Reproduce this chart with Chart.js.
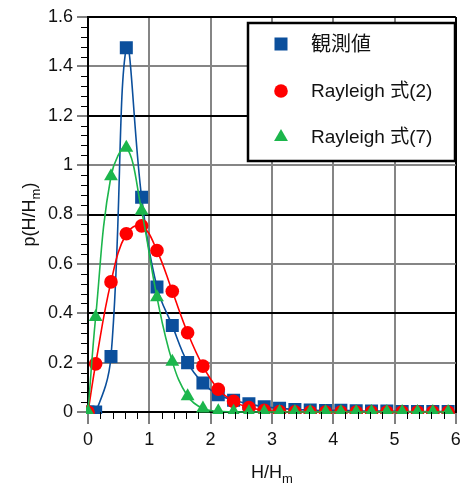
<!DOCTYPE html>
<html>
<head>
<meta charset="utf-8">
<script src="https://cdn.jsdelivr.net/npm/chart.js@4.4.1/dist/chart.umd.min.js"></script>
<style>
  html, body { margin: 0; padding: 0; background: #fff; }
  canvas { display: block; }
</style>
</head>
<body>
<canvas id="chart-pdf" width="465" height="484"></canvas>
<script>
/* H/Hm bin centres (plus the origin) */
const ratio = [0, 0.125, 0.375, 0.625, 0.875, 1.125, 1.375, 1.625, 1.875, 2.125, 2.375, 2.625,
  2.875, 3.125, 3.375, 3.625, 3.875, 4.125, 4.375, 4.625, 4.875, 5.125, 5.375, 5.625, 5.875]

const observed = [0, 0, 0.225, 1.475, 0.87, 0.506, 0.35, 0.2, 0.117, 0.07, 0.048, 0.033,
  0.021, 0.015, 0.01, 0.008, 0.006, 0.007, 0.005, 0.004, 0.004, 0.002, 0.002, 0.002, 0.002]

const rayleigh2 = [0, 0.195, 0.527, 0.722, 0.754, 0.654, 0.489, 0.321, 0.186, 0.092, 0.043, 0.018,
  0.007, 0.002, 0.001, 0, 0, 0, 0, 0, 0, 0, 0, 0, 0]

const rayleigh7 = [0, 0.385, 0.955, 1.07, 0.815, 0.465, 0.204, 0.064, 0.014, 0.003, 0.001, 0,
  0, 0, 0, 0, 0, 0, 0, 0, 0, 0, 0, 0, 0]

const seriesNames = ['観測値', 'Rayleigh 式(2)', 'Rayleigh 式(7)']
const xTicks = [0, 1, 2, 3, 4, 5, 6]
const yTicks = [0, 0.2, 0.4, 0.6, 0.8, 1, 1.2, 1.4, 1.6]

const BLUE = '#0b4f9c'
const RED = '#ff0000'
const GREEN = '#1cb64c'
const FONT = '"Liberation Sans", Arial, "Noto Sans CJK JP", sans-serif'

function toPoints(ys) {
    return ratio.map((x, i) => ({ x: x, y: ys[i] }))
}

/* draws text with a subscript part, optionally rotated */
function drawSubText(ctx, parts, cx, cy, rot) {
    ctx.save()
    ctx.translate(cx, cy)
    ctx.rotate(rot)
    ctx.textBaseline = 'alphabetic'
    ctx.textAlign = 'left'
    let total = 0
    parts.forEach(p => {
        ctx.font = (p.sub ? 13 : 18) + 'px ' + FONT
        p.w = ctx.measureText(p.t).width
        total += p.w
    })
    let x = -total / 2
    parts.forEach(p => {
        ctx.font = (p.sub ? 13 : 18) + 'px ' + FONT
        ctx.fillText(p.t, x, p.sub ? 11 : 6)
        x += p.w
    })
    ctx.restore()
}

const extrasPlugin = {
    id: 'extras',
    afterDraw(chart) {
        const ctx = chart.ctx
        const xs = chart.scales.x
        const ys = chart.scales.y
        const area = chart.chartArea

        /* minor ticks */
        ctx.save()
        ctx.strokeStyle = '#000'
        ctx.lineWidth = 1
        for (let i = 0; i <= 40; i++) {
            if (i % 5 === 0) continue
            const py = Math.round(ys.getPixelForValue(i * 0.04)) + 0.5
            ctx.beginPath()
            ctx.moveTo(area.left - 7, py)
            ctx.lineTo(area.left, py)
            ctx.stroke()
        }
        for (let i = 0; i <= 30; i++) {
            if (i % 5 === 0) continue
            const px = Math.round(xs.getPixelForValue(i * 0.2)) + 0.5
            ctx.beginPath()
            ctx.moveTo(px, area.bottom)
            ctx.lineTo(px, area.bottom + 7)
            ctx.stroke()
        }
        ctx.restore()

        /* axis titles */
        ctx.save()
        ctx.fillStyle = '#111'
        drawSubText(ctx, [{ t: 'H/H' }, { t: 'm', sub: true }], (area.left + area.right) / 2, 472, 0)
        drawSubText(ctx, [{ t: 'p(H/H' }, { t: 'm', sub: true }, { t: ')' }], 29, (area.top + area.bottom) / 2, -Math.PI / 2)
        ctx.restore()

        /* legend box */
        ctx.save()
        ctx.fillStyle = '#fff'
        ctx.fillRect(248, 23, 207, 138)
        ctx.strokeStyle = '#000'
        ctx.lineWidth = 2.5
        ctx.strokeRect(248, 23, 207, 138)
        const rows = [44, 91, 137]
        chart.data.datasets.forEach((ds, i) => {
            ctx.fillStyle = ds.backgroundColor
            Chart.helpers.drawPoint(ctx, { pointStyle: ds.pointStyle, radius: ds.pointRadius, rotation: 0, borderWidth: 0 }, 281, rows[i])
            ctx.fillStyle = '#111'
            ctx.textBaseline = 'middle'
            ctx.textAlign = 'left'
            ctx.font = (i === 0 ? 20 : 19) + 'px ' + FONT
            ctx.fillText(seriesNames[i], 311, rows[i] + 1)
        })
        ctx.restore()
    }
}

function lineSet(label, ys, color, style, radius, order) {
    return {
        label: label,
        data: toPoints(ys),
        borderColor: color,
        backgroundColor: color,
        borderWidth: 1.6,
        pointStyle: style,
        pointRadius: radius,
        pointHoverRadius: radius,
        pointBorderWidth: 0,
        tension: 0.4,
        order: order,
        clip: 2
    }
}

const chart = new Chart(document.getElementById('chart-pdf'), {
    type: 'line',
    data: {
        datasets: [
            lineSet(seriesNames[0], observed, BLUE, 'rect', 9.2, 2),
            lineSet(seriesNames[1], rayleigh2, RED, 'circle', 6.8, 1),
            lineSet(seriesNames[2], rayleigh7, GREEN, 'triangle', 8, 0)
        ]
    },
    options: {
        responsive: false,
        animation: false,
        layout: { padding: { top: 17, right: 5, left: 0, bottom: 0 } },
        plugins: {
            legend: { display: false },
            tooltip: { enabled: false }
        },
        scales: {
            x: {
                type: 'linear',
                min: 0,
                max: 6,
                afterBuildTicks: s => { s.ticks = xTicks.map(v => ({ value: v })) },
                afterFit: s => {
                    s.height = 72
                    s.paddingLeft = 0
                    s.paddingRight = 0
                },
                ticks: {
                    color: '#111',
                    font: { family: FONT, size: 18 },
                    padding: 5,
                    maxRotation: 0,
                    autoSkip: false
                },
                grid: {
                    color: c => (c.tick && c.tick.value === 6) ? '#000' : '#858585',
                    lineWidth: 2,
                    tickColor: '#000',
                    tickWidth: 1,
                    tickLength: 12
                },
                border: { color: '#000', width: 2 }
            },
            y: {
                type: 'linear',
                min: 0,
                max: 1.6,
                afterBuildTicks: s => { s.ticks = yTicks.map(v => ({ value: v })) },
                afterFit: s => {
                    s.width = 88
                    s.paddingTop = 0
                    s.paddingBottom = 0
                },
                ticks: {
                    color: '#111',
                    font: { family: FONT, size: 18 },
                    padding: 4,
                    autoSkip: false,
                    callback: v => String(Math.round(v * 10) / 10)
                },
                grid: {
                    color: c => (c.tick && Math.round(c.tick.value * 10) % 4 === 0) ? '#000' : '#858585',
                    lineWidth: 2,
                    tickColor: '#000',
                    tickWidth: 1,
                    tickLength: 11
                },
                border: { color: '#000', width: 2 }
            }
        }
    },
    plugins: [extrasPlugin]
})
</script>
</body>
</html>
